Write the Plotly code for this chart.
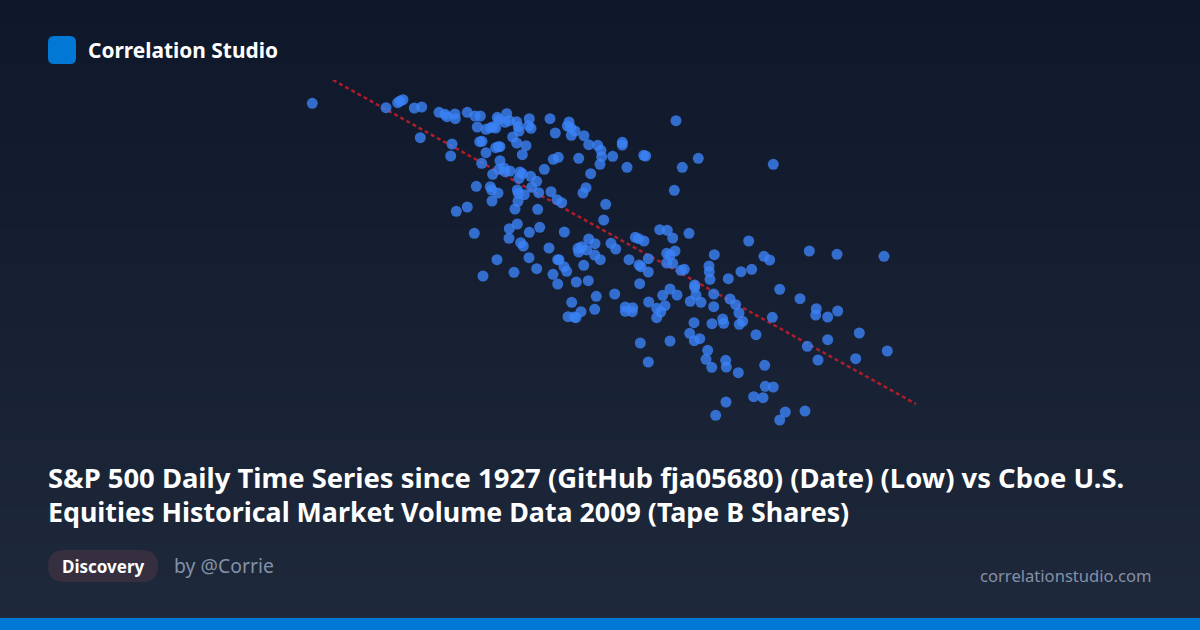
import plotly.graph_objects as go

# Readings from the picture, in chart units (horizontal: Tape B shares, vertical: Low)
tape_b_shares = [
    22.3, 96, 107.7, 110, 113, 124.3, 131.7, 149, 155, 157, 165, 165.3, 177.3, 185, 190.3, 130.3, 162, 160.7,
    187.3, 196, 200.7, 203.3, 205.7, 207.3, 209, 216.7, 215, 219.3, 226.7, 228.3, 229, 239.3, 238.7, 241, 260, 265.3,
    279, 277.3, 280.7, 285, 281.3, 294, 298.7, 307.7, 311, 311.7, 310, 322.7, 288.7, 268.3, 263.3, 254.3, 300.7, 296,
    293, 315.7, 313.7, 274.3, 249.7, 239.3, 227.3, 219.3, 219, 230.7, 233.3, 259, 184.3, 166.3, 177.3, 202, 208, 201.7,
    200.3, 186.3, 191.7, 196, 189.7, 192, 205.7, 208.3, 210, 210, 222.7, 226.7, 236, 232.3, 202.7, 209, 214, 215,
    220, 230, 232.3, 229, 240.7, 246.7, 241.7, 227.3, 228.3, 234.3, 248.7, 261, 267, 271.7, 228, 225, 247.7, 298.7,
    305, 288, 291.7, 296.7, 288.7, 304.7, 321, 239, 207, 193, 224, 246.7, 269, 267.7, 274, 276.7, 263, 267.7,
    286.3, 298.3, 293.7, 310.3, 325.7, 345.3, 348.7, 354, 369.7, 377.3, 382.7, 399, 385, 376.7, 380, 376.7, 382.7, 358.3,
    339, 349, 351, 358.3, 391, 394.3, 349.7, 306.3, 324.7, 281.7, 291, 304.7, 278, 284.3, 286, 335.3, 342.7, 335.3,
    342.3, 358.7, 366.7, 375, 370.7, 366.7, 372.7, 380, 387, 404.7, 404.7, 406, 400.3, 411, 423.7, 423.7, 424.3, 419,
    419.3, 420, 404, 422, 399.7, 404.3, 409.7, 417.7, 416, 421.7, 380, 350.3, 358.3, 458.7, 519.3, 547, 594, 474,
    479.7, 438.3, 451, 461.7, 489.7, 510, 526.3, 525.7, 537.7, 547.7, 569.3, 537.7, 517.3, 597.3, 565.7, 528, 482.3, 466,
    474.7, 448.3, 435.7, 436.3, 475.3, 483.3, 463.7, 473, 436, 425.7, 495.3, 515, 489.7, 440, 445.7, 449, 452.7, 449.3,
    432.7, 433.7, 386, 408.3, 392.3, 384.3, 483.3, 332.3, 332.3, 353.7, 355.7, 337,
]
sp500_low = [
    326.7, 322.3, 327.3, 329, 330.3, 322, 323, 317.7, 315.7, 313.3, 316, 311.3, 317.7, 314, 314, 292.3, 286, 274,
    303, 300.7, 302.3, 303.3, 302, 312.7, 310.3, 316.3, 307.7, 309.3, 308.3, 303.3, 299, 311.3, 304.3, 301.7, 311.3, 297,
    308, 304, 302.3, 299, 294.7, 294.3, 285.3, 284.7, 279.7, 273.3, 265.7, 273.7, 271.7, 272.7, 270.7, 260.7, 256.3, 242.3,
    237, 225.7, 210, 198, 202.7, 197.7, 206, 201.3, 191.7, 187.3, 184, 182, 196.7, 218.7, 223, 229, 237, 240,
    243.3, 243.7, 266.7, 277.3, 288.3, 288.7, 282.3, 283.3, 283.3, 269.3, 293, 287, 284.3, 275.3, 255.7, 260.7, 262, 258.3,
    259, 258, 256.3, 251.7, 253.7, 248.7, 242.7, 240, 236.7, 235.3, 237.3, 238.3, 230.3, 227.3, 228.7, 221, 220.7, 191,
    186.3, 181.7, 183.3, 180, 178, 175, 186.7, 172.3, 170.3, 154, 157.7, 161.3, 170.3, 170.3, 163.3, 158.7, 155.7, 146,
    148, 149.3, 164.7, 170.3, 181, 192.7, 191.3, 189, 200.3, 199.7, 192, 196.7, 179, 176.7, 175, 167, 166.7, 171.3,
    170.3, 165, 163.3, 158, 159.7, 160.7, 146.3, 133.7, 136, 127.7, 118.3, 120.7, 113.3, 113, 112.3, 123, 122.3, 118.7,
    118.3, 128, 121.7, 124.3, 118, 112.3, 134.7, 141, 135, 145, 142.7, 135, 128.7, 127.7, 136, 123.3, 175.3, 164,
    158.3, 150.7, 107.3, 106.3, 96.7, 89.3, 91.3, 79.7, 70.7, 62.7, 89, 87, 68, 189, 179, 175.7, 173.7, 173.7,
    170, 151.3, 158.3, 160.7, 140.7, 131.3, 121.3, 115, 113, 119, 97, 90.3, 83.7, 79, 71.3, 70, 112.7, 95.3,
    64.7, 57.3, 69.7, 63, 43.7, 43, 33.3, 32.3, 28, 14.7, 18, 19, 10, 131, 125.3, 117, 108.7, 105.7,
    111, 106.7, 309.3, 271.7, 262.7, 239.7, 265.7, 287.7, 285, 274.7, 274, 262.7,
]
trend_shares = [43, 626]
trend_low = [350, 26]

BRAND = "Correlation Studio"
TITLE_LINES = [
    "S&P 500 Daily Time Series since 1927 (GitHub fja05680) (Date) (Low) vs Cboe U.S.",
    "Equities Historical Market Volume Data 2009 (Tape B Shares)",
]
TAG = "Discovery"
AUTHOR = "by @Corrie"
SITE = "correlationstudio.com"
FONT = "Noto Sans"
W, H = 1200, 630


def fx(px):
    return px / W


def fy(py):
    return 1 - py / H


def rounded(x0, y0, x1, y1, r):
    X0, X1, Y0, Y1 = fx(x0), fx(x1), fy(y0), fy(y1)
    rx, ry = r / W, r / H
    return (
        f"M {X0 + rx} {Y0} L {X1 - rx} {Y0} Q {X1} {Y0} {X1} {Y0 - ry} "
        f"L {X1} {Y1 + ry} Q {X1} {Y1} {X1 - rx} {Y1} L {X0 + rx} {Y1} "
        f"Q {X0} {Y1} {X0} {Y1 + ry} L {X0} {Y0 - ry} Q {X0} {Y0} {X0 + rx} {Y0} Z"
    )


fig = go.Figure()
# Page background gradient, drawn on its own full-page axes
fig.add_trace(go.Heatmap(
    x=[0, 1], y=[0, 1], z=[[1, 1], [0, 0]], zsmooth="best", showscale=False, hoverinfo="skip",
    colorscale=[[0, "#0f172a"], [1, "#1e293b"]], xaxis="x", yaxis="y",
))
fig.add_trace(go.Scatter(
    x=trend_shares, y=trend_low, mode="lines", xaxis="x2", yaxis="y2", hoverinfo="skip",
    line=dict(color="#c81e2a", width=2.5, dash="4px,3px"), opacity=0.85,
))
fig.add_trace(go.Scatter(
    x=tape_b_shares, y=sp500_low, mode="markers", xaxis="x2", yaxis="y2",
    marker=dict(color="#3b82f6", size=11, opacity=0.8, line=dict(width=0)),
))


def text(s, px, py, size, color, weight=400, anchor="left"):
    fig.add_annotation(
        text=s, x=fx(px), y=fy(py), xref="paper", yref="paper", xanchor=anchor, yanchor="middle",
        showarrow=False, align=anchor, borderpad=0,
        font=dict(family=FONT, size=size, color=color, weight=weight),
    )


text(BRAND, 87, 50, 20.9, "#ffffff", 700)
text(TITLE_LINES[0], 47, 477, 27.4, "#ffffff", 700)
text(TITLE_LINES[1], 47, 511, 26.8, "#ffffff", 700)
text(TAG, 61, 566, 17, "#ffffff", 700)
text(AUTHOR, 173, 565.5, 19.4, "#8391a7")
text(SITE, 1152.5, 575, 16.6, "#8391a7", anchor="right")

fig.update_layout(
    width=W, height=H, margin=dict(l=0, r=0, t=0, b=0), showlegend=False,
    paper_bgcolor="#0f172a", plot_bgcolor="rgba(0,0,0,0)",
    xaxis=dict(domain=[0, 1], range=[0, 1], visible=False, fixedrange=True),
    yaxis=dict(domain=[0, 1], range=[0, 1], visible=False, fixedrange=True),
    xaxis2=dict(domain=[fx(290), fx(930)], range=[0, 640], visible=False, anchor="y2"),
    yaxis2=dict(domain=[fy(430), fy(80)], range=[0, 350], visible=False, anchor="x2"),
    shapes=[
        dict(type="path", path=rounded(48, 36, 76, 64, 6), xref="paper", yref="paper",
             fillcolor="#0078d4", line=dict(width=0)),
        dict(type="path", path=rounded(48, 550, 158, 582, 16), xref="paper", yref="paper",
             fillcolor="#352f3f", line=dict(width=0)),
        dict(type="rect", x0=0, x1=1, y0=0, y1=fy(618), xref="paper", yref="paper",
             fillcolor="#0078d4", line=dict(width=0)),
    ],
)
fig.write_html(
    "out.html", config=dict(displayModeBar=False),
    post_script="document.documentElement.style.overflow='hidden';document.body.style.margin='0';"
                "document.body.style.background='#0f172a';",
)
